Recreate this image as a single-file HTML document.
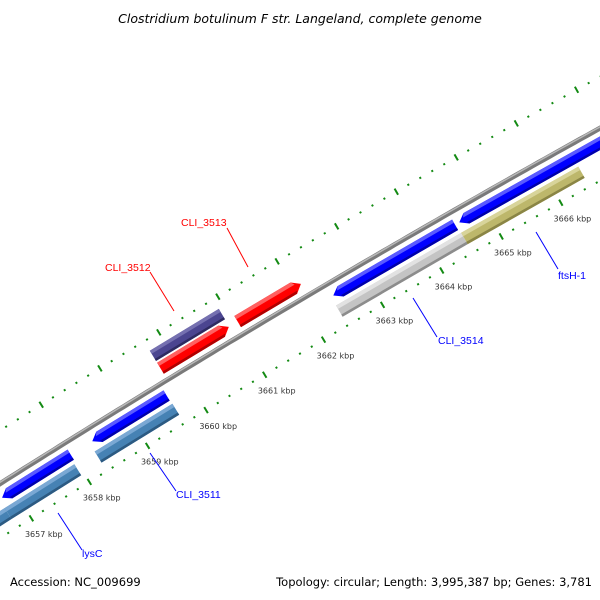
<!DOCTYPE html>
<html><head><meta charset="utf-8">
<style>
html,body{margin:0;padding:0;background:#fff;overflow:hidden;}
svg{display:block;font-family:"Liberation Sans","DejaVu Sans",sans-serif;}
</style></head>
<body>
<svg id="map" width="600" height="600" viewBox="0 0 600 600">
<rect x="0" y="0" width="600" height="600" fill="#fff"/>
<g id="rulers"></g>
<g id="features"></g>
<g id="ticklabels"></g>
<g>
<line x1="227" y1="228" x2="248" y2="267" stroke="#ff0000" stroke-width="1"/>
<text x="181" y="226" font-size="10.5" fill="#ff0000">CLI_3513</text>
<line x1="150" y1="272" x2="174" y2="311" stroke="#ff0000" stroke-width="1"/>
<text x="105" y="271" font-size="10.5" fill="#ff0000">CLI_3512</text>
<line x1="58" y1="513" x2="82" y2="550" stroke="#0000ff" stroke-width="1"/>
<text x="82" y="557" font-size="10.5" fill="#0000ff">lysC</text>
<line x1="150" y1="453" x2="176" y2="491" stroke="#0000ff" stroke-width="1"/>
<text x="176" y="498" font-size="10.5" fill="#0000ff">CLI_3511</text>
<line x1="413" y1="298" x2="437" y2="337" stroke="#0000ff" stroke-width="1"/>
<text x="438" y="344" font-size="10.5" fill="#0000ff">CLI_3514</text>
<line x1="536" y1="232" x2="558" y2="269" stroke="#0000ff" stroke-width="1"/>
<text x="558" y="279" font-size="10.5" fill="#0000ff">ftsH-1</text>
</g>
<text x="300" y="23" text-anchor="middle" font-size="12.5" font-style="italic" fill="#000" style="font-family:'DejaVu Sans',sans-serif">Clostridium botulinum F str. Langeland, complete genome</text>
<text x="10" y="586" font-size="11.5" fill="#000" style="font-family:'DejaVu Sans',sans-serif">Accession: NC_009699</text>
<text x="592" y="586" text-anchor="end" font-size="11.5" fill="#000" style="font-family:'DejaVu Sans',sans-serif">Topology: circular; Length: 3,995,387 bp; Genes: 3,781</text>
</svg>
<script>
// feature data (kbp)
const featStart = [3655.5, 3656.8, 3658.35, 3662.45, 3664.57, 3655.5, 3656.75, 3658.3, 3662.41, 3664.52, 3659.75, 3661.06, 3659.75];
const featEnd   = [3656.7, 3657.98, 3659.62, 3664.5, 3667.2, 3656.75, 3657.95, 3659.63, 3664.52, 3666.48, 3660.91, 3662.13, 3660.92];
const featStrand= [-1, -1, -1, -1, -1, 0, 0, 0, 0, 0, 1, 1, 0];
const featRing  = ["B","B","B","B","B","A","A","A","A","A","C","C","D"];
const featColor = ["blue","blue","blue","blue","blue","steel","steel","steel","gray","khaki","red","red","purple"];
const featNames = ["cds-a","lysc-arrow","cli3511-arrow","cli3514-arrow","ftsh1-arrow","bar-a","lysc-bar","cli3511-bar","cli3514-bar","ftsh1-bar","cli3512-arrow","cli3513-arrow","cli3512-bar"];
const majorTicks = [3654,3655,3656,3657,3658,3659,3660,3661,3662,3663,3664,3665,3666,3667,3668];
const tickLabels = ["3654 kbp","3655 kbp","3656 kbp","3657 kbp","3658 kbp","3659 kbp","3660 kbp","3661 kbp","3662 kbp","3663 kbp","3664 kbp","3665 kbp","3666 kbp","3667 kbp","3668 kbp"];

const NS="http://www.w3.org/2000/svg";
const R=12000, PXPERKB=68.5, MID=3661.5;
const MX=294, MY=357;
const CX=MX+0.512*R, CY=MY+0.859*R;
const PHI0=Math.atan2(-0.859,-0.512);
function pt(kb,off){const a=PHI0+(kb-MID)*PXPERKB/R;const r=R+off;return [CX+r*Math.cos(a),CY+r*Math.sin(a)];}
function mk(tag,attrs,parent){const e=document.createElementNS(NS,tag);for(const k in attrs)e.setAttribute(k,attrs[k]);parent.appendChild(e);return e;}
const ringOff={A:[10,23],B:[27,39],C:[53,66],D:[68,80]};
const palette={blue:["#0000ff","#5a5aff","#0000a8"],steel:["#4682b4","#7aa8d4","#2c5a82"],gray:["#c4c4c4","#e2e2e2","#8c8c8c"],khaki:["#bdb76b","#d8d49a","#8a8545"],red:["#ff0000","#ff6060","#b00000"],purple:["#4b4590","#7570b0","#2e2a60"]};

const rulers=document.getElementById('rulers');
(function(){
  let d="";for(let k=3654;k<=3668;k+=0.1){const p=pt(k,46);d+=(d?"L":"M")+p[0].toFixed(1)+","+p[1].toFixed(1);}
  const b=mk('path',{d:d,stroke:"#7a7a7a","stroke-width":5,fill:"none"},rulers);
  
  
  let d2="";for(let k=3654;k<=3668;k+=0.1){const p=pt(k,47.2);d2+=(d2?"L":"M")+p[0].toFixed(1)+","+p[1].toFixed(1);}
  const h=mk('path',{d:d2,stroke:"#b8b8b8","stroke-width":1.5,fill:"none"},rulers);
  
  
})();
[0,91].forEach(function(off){
  for(let i=0;i<majorTicks.length-1;i++){
    for(let j=0;j<5;j++){
      const kb=majorTicks[i]+j*(majorTicks[i+1]-majorTicks[i])/5;
      const len=j===0?3.5:1;
      const a=pt(kb,off-len), b=pt(kb,off+len);
      const t=mk('line',{x1:a[0],y1:a[1],x2:b[0],y2:b[1],stroke:"#138a13","stroke-width":2},rulers);
      
      
    }
  }
});
const tl=document.getElementById('ticklabels');
majorTicks.forEach(function(kb,i){
  const p=pt(kb,-19.5);
  if(p[0]<20||p[0]>580||p[1]>560||p[1]<40) return;
  const t=mk('text',{x:(p[0]+2).toFixed(1),y:(p[1]+2).toFixed(1),"text-anchor":"middle","font-size":"8",fill:"#333",style:"font-family:'DejaVu Sans',sans-serif"},tl);
  t.textContent=tickLabels[i];
  
  
});
const fg=document.getElementById('features');
function poly(pts){return pts.map(p=>p[0].toFixed(1)+","+p[1].toFixed(1)).join(" ");}
featStart.forEach(function(s,i){
  const e=featEnd[i], st=featStrand[i], ro=ringOff[featRing[i]], c=palette[featColor[i]];
  const lo=ro[0], hi=ro[1], mid=(lo+hi)/2, head=0.12;
  let outline;
  if(st<0) outline=[pt(s+head,hi),pt(e,hi),pt(e,lo),pt(s+head,lo),pt(s,mid)];
  else if(st>0) outline=[pt(s,hi),pt(e-head,hi),pt(e,mid),pt(e-head,lo),pt(s,lo)];
  else outline=[pt(s,hi),pt(e,hi),pt(e,lo),pt(s,lo)];
  const g=mk('g',{},fg);
  
  
  mk('polygon',{points:poly(outline),fill:c[0]},g);
  const hs=hi-(hi-lo)*0.3;
  let hl;
  if(st<0) hl=[pt(s+head,hi),pt(e,hi),pt(e,hs),pt(s+head*0.7,hs)];
  else if(st>0) hl=[pt(s,hi),pt(e-head,hi),pt(e-head*0.7,hs),pt(s,hs)];
  else hl=[pt(s,hi),pt(e,hi),pt(e,hs),pt(s,hs)];
  mk('polygon',{points:poly(hl),fill:c[1]},g);
  const ls=lo+(hi-lo)*0.2;
  let sh;
  if(st<0) sh=[pt(s+head*0.8,ls),pt(e,ls),pt(e,lo),pt(s+head,lo)];
  else if(st>0) sh=[pt(s,ls),pt(e-head*0.8,ls),pt(e-head,lo),pt(s,lo)];
  else sh=[pt(s,ls),pt(e,ls),pt(e,lo),pt(s,lo)];
  mk('polygon',{points:poly(sh),fill:c[2]},g);
});
</script>
</body></html>
